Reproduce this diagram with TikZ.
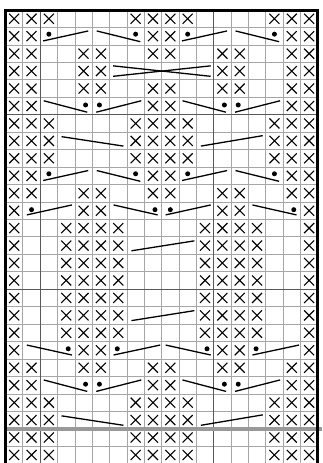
\documentclass[tikz,border=0pt]{standalone}
\begin{document}
\begin{tikzpicture}[x=1pt,y=-1pt,
  gridline/.style={draw=black!35,line width=0.8pt},
  majorline/.style={draw=black!65,line width=1.2pt},
  repeatline/.style={draw=black!40,line width=3.5pt},
  frameline/.style={draw=black,line width=3pt},
  xmark/.style={draw=black,line width=1.1pt},
  cable/.style={draw=black,line width=1.3pt},
  stitchdot/.style={fill=black}]
\useasboundingbox (0,0) rectangle (322,463);
\fill[white] (0,0) rectangle (322,463);
\def\W{17.35}\def\H{17.45}\def\XO{5.5}\def\YO{10}
\newcommand\Lx[1]{\XO+(#1-1)*\W}
\newcommand\Rx[1]{\XO+(#1)*\W}
\newcommand\Cx[1]{\XO+(#1-0.5)*\W}
\newcommand\Ty[1]{\YO+(#1-1)*\H}
\newcommand\By[1]{\YO+(#1)*\H}
\newcommand\Cy[1]{\YO+(#1-0.5)*\H}
\newcommand\xmk[2]{\draw[xmark] ({\Cx{#1}-5},{\Cy{#2}-5}) -- ++(10,10) ({\Cx{#1}+5},{\Cy{#2}-5}) -- ++(-10,10);}
\newcommand\sdot[2]{\fill[stitchdot] (#1,#2) circle (2.5);}
% type A: inverted V, dots at outer ends
\newcommand\cabA[2]{%
  \draw[cable] ({\Lx{#1}+3},{\By{#2}-4}) -- ({\Lx{#1+3}-4},{\Ty{#2}+3.5});
  \draw[cable] ({\Lx{#1+3}+4.5},{\Ty{#2}+3.5}) -- ({\Rx{#1+5}-4},{\By{#2}-3.2});
  \sdot{{\Cx{#1}}}{{\Cy{#2}-2}}
  \sdot{{\Cx{#1+5}}}{{\Cy{#2}-2}}}
% type B: V, dots at inner ends
\newcommand\cabB[2]{%
  \draw[cable] ({\Lx{#1}+3.5},{\Ty{#2}+3.5}) -- ({\Lx{#1+3}-5},{\By{#2}-2.5});
  \draw[cable] ({\Lx{#1+3}+4},{\By{#2}-2.5}) -- ({\Rx{#1+5}-3},{\Ty{#2}+3.5});
  \sdot{{\Cx{#1+2}+2}}{{\Cy{#2}-1}}
  \sdot{{\Cx{#1+3}-1.5}}{{\Cy{#2}-1}}}
% rising segment, dot at start (left)
\newcommand\riseDot[2]{%
  \draw[cable] ({\Lx{#1}+4},{\By{#2}-4.5}) -- ({\Rx{#1+2}-3},{\Ty{#2}+3});
  \sdot{{\Cx{#1}}}{{\Cy{#2}-1}}}
% descending segment, dot at end (right)
\newcommand\descDot[2]{%
  \draw[cable] ({\Lx{#1}+4},{\Ty{#2}+3}) -- ({\Rx{#1+2}-4},{\By{#2}-4.5});
  \sdot{{\Cx{#1+2}+2}}{{\Cy{#2}-1}}}
% descending segment, dot at end (right), lower variant
\newcommand\descDotB[2]{%
  \draw[cable] ({\Lx{#1}+4},{\Ty{#2}+3.5}) -- ({\Rx{#1+2}-3},{\By{#2}-4});
  \sdot{{\Cx{#1+2}+2}}{{\Cy{#2}-1.5}}}
% rising segment, dot at start (left), lower variant
\newcommand\riseDotB[2]{%
  \draw[cable] ({\Lx{#1}+4},{\By{#2}-4}) -- ({\Rx{#1+2}-1.5},{\Ty{#2}+3.5});
  \sdot{{\Cx{#1}-1}}{{\Cy{#2}-1.5}}}
\begin{scope}
\clip (0,0) rectangle (322,463);
% grid
\foreach \c in {1,...,17} \draw[gridline] ({\Rx{\c}},\YO) -- ({\Rx{\c}},463);
\foreach \r in {1,...,26} \draw[gridline] (\XO,{\By{\r}}) -- ({\Rx{18}},{\By{\r}});
% major lines
\foreach \c in {2,12} \draw[majorline] ({\Rx{\c}},\YO) -- ({\Rx{\c}},463);
\foreach \r in {6,16} \draw[majorline] (\XO,{\By{\r}}) -- ({\Rx{18}},{\By{\r}});
% repeat line
\draw[repeatline] (\XO,{\By{24}}) -- (322,{\By{24}});
% X marks
\foreach \r in {1,7,9,23,25,26,8,24} \foreach \c in {1,2,3,8,9,10,11,16,17,18} {\xmk{\c}{\r}}
\foreach \r in {3,5,11,21} \foreach \c in {1,2,5,6,9,10,13,14,17,18} {\xmk{\c}{\r}}
\foreach \r in {2,10,6,22} \foreach \c in {1,2,9,10,17,18} {\xmk{\c}{\r}}
\foreach \c in {1,2,5,6,13,14,17,18} {\xmk{\c}{4}}
\foreach \r in {12,20} \foreach \c in {1,5,6,13,14,18} {\xmk{\c}{\r}}
\foreach \r in {13,...,19} \foreach \c in {1,4,5,6,7,12,13,14,15,18} {\xmk{\c}{\r}}
% cables
\cabA{3}{2} \cabA{11}{2}
\cabA{3}{10} \cabA{11}{10}
\cabB{3}{6} \cabB{11}{6}
\cabB{3}{22} \cabB{11}{22}
% cross row 4
\draw[cable] ({\Lx{7}+3.5},{\Ty{4}+3.5}) -- ({\Rx{12}-3},{\By{4}-3.5});
\draw[cable] ({\Lx{7}+3.5},{\By{4}-3.5}) -- ({\Rx{12}-3},{\Ty{4}+3.5});
% single lines rows 8, 24
\foreach \r in {8,24} {
  \draw[cable] ({\Lx{4}+4},{\Ty{\r}+4.5}) -- ({\Rx{7}-3.5},{\By{\r}-3.5});
  \draw[cable] ({\Lx{12}+4.5},{\By{\r}-3.5}) -- ({\Rx{15}-3},{\Ty{\r}+3.5});
}
% rising lines rows 14, 18
\foreach \r in {14,18} {
  \draw[cable] ({\Lx{8}+4.5},{\By{\r}-3.5}) -- ({\Rx{11}-2},{\Ty{\r}+4});
}
% row 12
\riseDot{2}{12} \descDot{7}{12} \riseDot{10}{12} \descDot{15}{12}
% row 20
\descDotB{2}{20} \riseDotB{7}{20} \descDotB{10}{20} \riseDotB{15}{20}
% frame
\draw[frameline] (\XO,463) -- (\XO,\YO) -- ({\Rx{18}},\YO) -- ({\Rx{18}},463);
\end{scope}
\end{tikzpicture}
\end{document}
